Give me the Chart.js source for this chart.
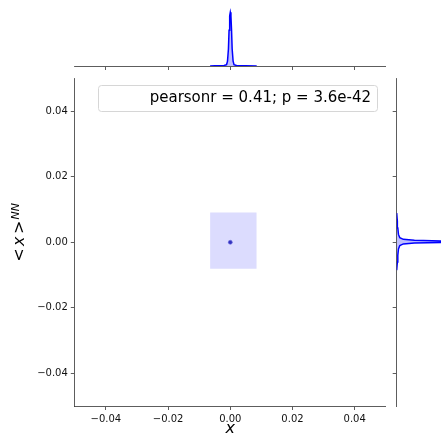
<!DOCTYPE html>
<html>
<head>
<meta charset="utf-8">
<script src="https://cdn.jsdelivr.net/npm/chart.js@4"></script>
<style>
    body { margin: 0; background: #fff; }
    #wrap { position: relative; width: 441px; height: 441px; overflow: hidden; }
    canvas { position: absolute; }
</style>
</head>
<body>
<div id="wrap">
    <canvas id="mainChart" width="441" height="441" style="left:0;top:0"></canvas>
    <canvas id="topChart" width="441" height="72" style="left:0;top:0"></canvas>
    <canvas id="rightChart" width="51" height="441" style="left:390px;top:0"></canvas>
</div>
<script>
// axis ticks
const xTicks = [-0.04, -0.02, 0.00, 0.02, 0.04];
const yTicks = [-0.04, -0.02, 0.00, 0.02, 0.04];

// lowest kde contour (box) and the dense centre
const boxX = [-0.0065, 0.0085];
const boxTop = [0.0091, 0.0091];
const boxBottom = [-0.0081, -0.0081];
const centreX = [0.0];
const centreY = [0.0];

// top marginal density of x
const topX = [-0.0065, -0.005, -0.003, -0.002, -0.0012, -0.0009, -0.0006, -0.0004, -0.0002, 0,
              0.0002, 0.0004, 0.0006, 0.0009, 0.0012, 0.002, 0.003, 0.005, 0.0085];
const topDensity = [0, 3, 6, 10, 30, 110, 380, 800, 1120, 1200,
                    1120, 800, 380, 110, 30, 10, 6, 3, 0];

// right marginal density of <x>_NN
const rightY = [-0.0085, -0.006, -0.004, -0.002, -0.001, -0.0005, -0.0002, 0.0, 0.0001, 0.0002,
                0.0003, 0.0004, 0.0006, 0.0009, 0.0014, 0.0024, 0.0044, 0.0064, 0.0089];
const rightDensity = [0, 15, 25, 40, 70, 150, 400, 1100, 2000, 2600,
                      2000, 1100, 400, 150, 70, 40, 25, 15, 0];

const legendText = 'pearsonr = 0.41; p = 3.6e-42';

const font = '"DejaVu Sans", sans-serif';
const lineBlue = '#0000ff';
const shadeBlue = 'rgba(0, 0, 255, 0.25)';
const spine = '#333';

function fmt(v) {
    return v.toFixed(2).replace('-', '\u2212');
}

function fixedTicks(list) {
    return scale => { scale.ticks = list.map(v => ({ value: v })); };
}

const overlay = {
    id: 'overlay',
    afterDraw(chart) {
        const ctx = chart.ctx;

        // legend box
        ctx.save();
        ctx.beginPath();
        ctx.roundRect(98.5, 85.5, 279, 26, 3);
        ctx.fillStyle = 'rgba(255,255,255,0.8)';
        ctx.fill();
        ctx.strokeStyle = '#d6d6d6';
        ctx.lineWidth = 1;
        ctx.stroke();
        ctx.font = '15px ' + font;
        ctx.fillStyle = '#000';
        ctx.textAlign = 'right';
        ctx.textBaseline = 'middle';
        ctx.fillText(legendText, 371, 98.5);
        ctx.restore();

        // y label: <x>_NN, rotated
        ctx.save();
        ctx.translate(23.5, 232.5);
        ctx.rotate(-Math.PI / 2);
        ctx.fillStyle = '#000';
        ctx.textBaseline = 'alphabetic';
        const parts = [
            { t: '<', f: '16px ' + font, dy: 0, gap: 2.5 },
            { t: 'x', f: 'italic 16px ' + font, dy: 0, gap: 2.5 },
            { t: '>', f: '16px ' + font, dy: 0, gap: 1 },
            { t: 'NN', f: 'italic 11px ' + font, dy: -5, gap: 0 }
        ];
        let total = 0;
        parts.forEach(p => { ctx.font = p.f; p.w = ctx.measureText(p.t).width; total += p.w + p.gap; });
        let pos = -total / 2;
        parts.forEach(p => {
            ctx.font = p.f;
            ctx.fillText(p.t, pos, p.dy);
            pos += p.w + p.gap;
        });
        ctx.restore();
    }
};

const mainChart = new Chart(document.getElementById('mainChart').getContext('2d'), {
    type: 'scatter',
    data: {
        datasets: [
            {
                data: boxX.map((x, i) => ({ x: x, y: boxTop[i] })),
                showLine: true,
                borderWidth: 0,
                pointRadius: 0,
                backgroundColor: '#dcdcfe',
                fill: false,
                order: 2
            },
            {
                data: boxX.map((x, i) => ({ x: x, y: boxBottom[i] })),
                showLine: true,
                borderWidth: 0,
                pointRadius: 0,
                backgroundColor: '#dcdcfe',
                fill: '-1',
                order: 1
            },
            {
                data: centreX.map((x, i) => ({ x: x, y: centreY[i] })),
                pointRadius: 2,
                borderWidth: 0.8,
                borderColor: 'rgba(110, 110, 225, 0.8)',
                backgroundColor: 'rgba(40, 40, 185, 0.95)',
                order: 0
            }
        ]
    },
    options: {
        responsive: false,
        animation: false,
        layout: { padding: { left: 0, top: 78.6, right: 55.2, bottom: 0 } },
        plugins: { legend: { display: false }, tooltip: { enabled: false } },
        scales: {
            x: {
                type: 'linear',
                min: -0.05,
                max: 0.05,
                afterBuildTicks: fixedTicks(xTicks),
                afterFit: s => { s.height = 35; },
                grid: { drawOnChartArea: false, tickLength: 4, tickColor: spine, tickWidth: 0.8 },
                border: { color: spine, width: 0.8 },
                ticks: { callback: v => fmt(v), font: { family: font, size: 10 }, color: '#111', padding: 3, maxRotation: 0 },
                title: { display: true, text: 'x', font: { family: font, size: 16, style: 'italic' }, color: '#000', padding: { top: 0, bottom: 3 } }
            },
            y: {
                type: 'linear',
                min: -0.05,
                max: 0.05,
                afterBuildTicks: fixedTicks(yTicks),
                afterFit: s => { s.width = 74.8; },
                grid: { drawOnChartArea: false, tickLength: 4, tickColor: spine, tickWidth: 0.8 },
                border: { color: spine, width: 0.8 },
                ticks: { callback: v => fmt(v), font: { family: font, size: 10 }, color: '#111', padding: 3 }
            }
        }
    },
    plugins: [overlay]
});

const topChart = new Chart(document.getElementById('topChart').getContext('2d'), {
    type: 'scatter',
    data: {
        datasets: [{
            data: topX.map((x, i) => ({ x: x, y: topDensity[i] })),
            showLine: true,
            borderColor: lineBlue,
            borderWidth: 1.5,
            backgroundColor: shadeBlue,
            pointRadius: 0,
            fill: 'origin'
        }]
    },
    options: {
        responsive: false,
        animation: false,
        layout: { padding: { left: 74.8, top: 0, right: 55.2, bottom: 0 } },
        plugins: { legend: { display: false }, tooltip: { enabled: false } },
        scales: {
            x: {
                type: 'linear',
                min: -0.05,
                max: 0.05,
                afterBuildTicks: fixedTicks(xTicks),
                afterFit: s => { s.height = 6; },
                grid: { drawOnChartArea: false, tickLength: 4, tickColor: spine, tickWidth: 0.8 },
                border: { color: spine, width: 0.8 },
                ticks: { display: false }
            },
            y: { display: false, min: 0, max: 1475 }
        }
    }
});

const rightChart = new Chart(document.getElementById('rightChart').getContext('2d'), {
    type: 'line',
    data: {
        datasets: [{
            data: rightY.map((y, i) => ({ x: rightDensity[i], y: y })),
            borderColor: lineBlue,
            borderWidth: 1.5,
            backgroundColor: shadeBlue,
            pointRadius: 0,
            fill: 'origin'
        }]
    },
    options: {
        indexAxis: 'y',
        responsive: false,
        animation: false,
        layout: { padding: { left: 0, top: 78.6, right: 0, bottom: 35 } },
        plugins: { legend: { display: false }, tooltip: { enabled: false } },
        scales: {
            x: { type: 'linear', display: false, min: 0, max: 1000 },
            y: {
                type: 'linear',
                min: -0.05,
                max: 0.05,
                afterBuildTicks: fixedTicks(yTicks),
                afterFit: s => { s.width = 6.7; },
                grid: { drawOnChartArea: false, tickLength: 4, tickColor: spine, tickWidth: 0.8 },
                border: { color: spine, width: 0.8 },
                ticks: { display: false }
            }
        }
    }
});
</script>
</body>
</html>
